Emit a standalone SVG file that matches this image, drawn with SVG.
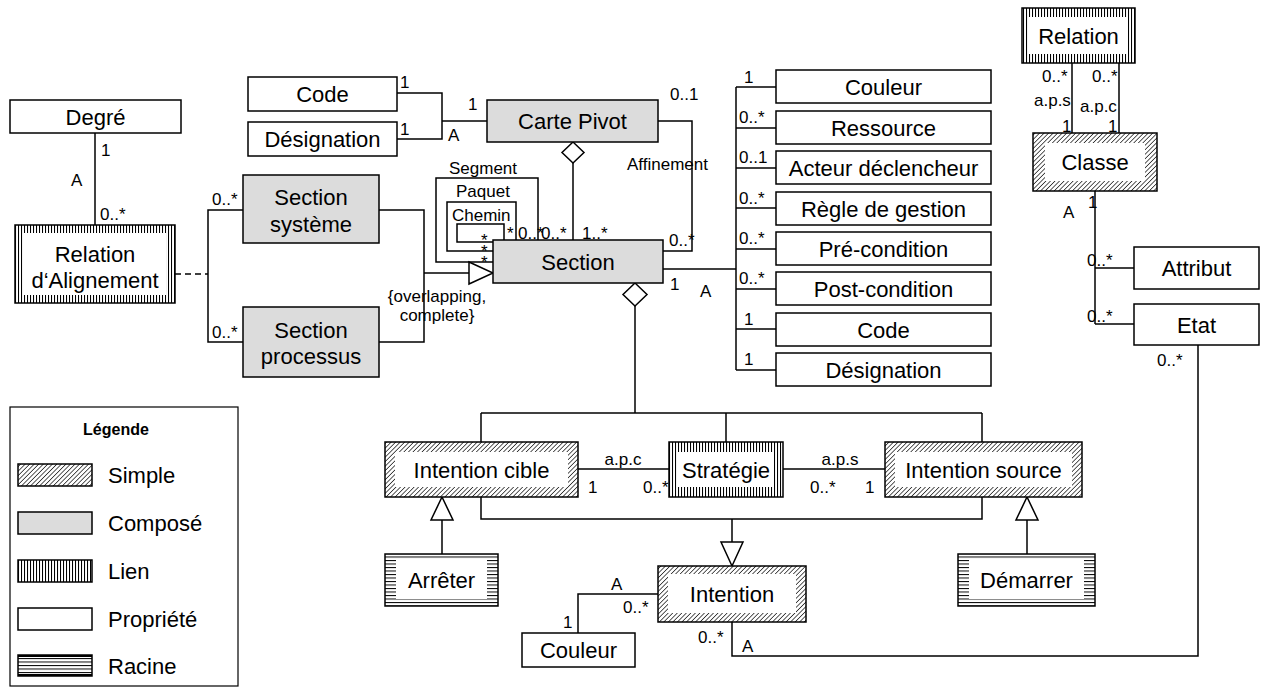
<svg xmlns="http://www.w3.org/2000/svg" width="1266" height="691" viewBox="0 0 1266 691">
<defs>
<pattern id="hatch" width="3.2" height="3.2" patternUnits="userSpaceOnUse" patternTransform="rotate(45)"><rect width="3.2" height="3.2" fill="#fff"/><line x1="0" y1="0" x2="0" y2="3.2" stroke="#000" stroke-width="1.3"/></pattern>
<pattern id="vert" width="3" height="3" patternUnits="userSpaceOnUse"><rect width="3" height="3" fill="#fff"/><line x1="0.5" y1="0" x2="0.5" y2="3" stroke="#000" stroke-width="1.1"/></pattern>
<pattern id="horiz" width="3.5" height="3.5" patternUnits="userSpaceOnUse"><rect width="3.5" height="3.5" fill="#fff"/><line x1="0" y1="0.5" x2="3.5" y2="0.5" stroke="#000" stroke-width="1"/></pattern>
</defs>
<style>
.prop{fill:#fff;stroke:#000;stroke-width:1.5}
.comp{fill:#dcdcdc;stroke:#000;stroke-width:1.5}
.simple{fill:url(#hatch);stroke:#000;stroke-width:1.5}
.lien{fill:url(#vert);stroke:#000;stroke-width:1.5}
.racine{fill:url(#horiz);stroke:#000;stroke-width:1.5}
.inner{fill:#fff;stroke:none}
.t{font-family:"Liberation Sans",Arial,sans-serif;font-size:22px;text-anchor:middle;fill:#000}
.m{font-family:"Liberation Sans",Arial,sans-serif;font-size:17px;fill:#000}
.mc{text-anchor:middle}
.ln{fill:none;stroke:#000;stroke-width:1.5}
.dash{stroke-dasharray:6 4}
.tri{fill:#fff;stroke:#000;stroke-width:1.5}
.lg{font-family:"Liberation Sans",Arial,sans-serif;font-size:22px;fill:#000}
</style>
<rect width="1266" height="691" fill="#fff"/>

<g id="connectors">
  <!-- Degré - Relation d'Alignement -->
  <line class="ln" x1="95" y1="133" x2="95" y2="225"/>
  <text class="m" x="101" y="156">1</text>
  <text class="m" x="71" y="186">A</text>
  <text class="m" x="100" y="220">0..*</text>
  <!-- dashed -->
  <line class="ln dash" x1="175" y1="274" x2="208" y2="274"/>
  <polyline class="ln" points="243,210 208,210 208,342 243,342"/>
  <text class="m" x="212" y="205">0..*</text>
  <text class="m" x="212" y="338">0..*</text>
  <!-- generalization to Section -->
  <polyline class="ln" points="379,210 424,210 424,342 379,342"/>
  <line class="ln" x1="424" y1="273" x2="469" y2="273"/>
  <polygon class="tri" points="469,262 469,284 493,273"/>
  <text class="m mc" x="437" y="302">{overlapping,</text>
  <text class="m mc" x="437" y="321">complete}</text>
  <!-- Code / Désignation - Carte Pivot -->
  <polyline class="ln" points="397,93 442,93 442,139 397,139"/>
  <line class="ln" x1="442" y1="121" x2="487" y2="121"/>
  <text class="m" x="400" y="88">1</text>
  <text class="m" x="400" y="135">1</text>
  <text class="m" x="468" y="110">1</text>
  <text class="m" x="448" y="141">A</text>
  <!-- Carte Pivot - Section composition -->
  <line class="ln" x1="573" y1="163" x2="573" y2="240"/>
  <polygon class="tri" points="573,142 584,152.5 573,163 562,152.5"/>
  <text class="m" x="582" y="239">1..*</text>
  <!-- Affinement -->
  <polyline class="ln" points="658,121 692,121 692,251 663,251"/>
  <text class="m" x="670" y="100">0..1</text>
  <text class="m" x="627" y="170">Affinement</text>
  <text class="m" x="669" y="246">0..*</text>
  <!-- self loops -->
  <polyline class="ln" points="493,262 436,262 436,178 538,178 538,240"/>
  <text class="m" x="449" y="174">Segment</text>
  <polyline class="ln" points="493,251 447,251 447,202 516,202 516,240"/>
  <text class="m" x="456" y="197">Paquet</text>
  <polyline class="ln" points="493,242 457,242 457,224 504,224 504,240"/>
  <text class="m" x="452" y="221">Chemin</text>
  <text class="m" x="481" y="246">*<tspan x="481" dy="11">*</tspan><tspan x="481" dy="11">*</tspan></text>
  <text class="m" x="507" y="239">*</text>
  <text class="m" x="518" y="239">0..*</text>
  <text class="m" x="541" y="239">0..*</text>
  <!-- Section properties -->
  <line class="ln" x1="663" y1="269" x2="736" y2="269"/>
  <line class="ln" x1="736" y1="87" x2="736" y2="370"/>
  <line class="ln" x1="736" y1="87" x2="776" y2="87"/>
  <line class="ln" x1="736" y1="128" x2="776" y2="128"/>
  <line class="ln" x1="736" y1="168" x2="776" y2="168"/>
  <line class="ln" x1="736" y1="208" x2="776" y2="208"/>
  <line class="ln" x1="736" y1="249" x2="776" y2="249"/>
  <line class="ln" x1="736" y1="289" x2="776" y2="289"/>
  <line class="ln" x1="736" y1="329" x2="776" y2="329"/>
  <line class="ln" x1="736" y1="370" x2="776" y2="370"/>
  <text class="m" x="744" y="83">1</text>
  <text class="m" x="739" y="123">0..*</text>
  <text class="m" x="739" y="163">0..1</text>
  <text class="m" x="739" y="204">0..*</text>
  <text class="m" x="739" y="244">0..*</text>
  <text class="m" x="739" y="284">0..*</text>
  <text class="m" x="744" y="325">1</text>
  <text class="m" x="744" y="365">1</text>
  <text class="m" x="670" y="290">1</text>
  <text class="m" x="700" y="297">A</text>
  <!-- Section - Intentions composition -->
  <polygon class="tri" points="635,283 647,294.5 635,306 623,294.5"/>
  <line class="ln" x1="635" y1="306" x2="635" y2="413"/>
  <line class="ln" x1="481" y1="413" x2="982" y2="413"/>
  <line class="ln" x1="481" y1="413" x2="481" y2="442"/>
  <line class="ln" x1="726" y1="413" x2="726" y2="442"/>
  <line class="ln" x1="982" y1="413" x2="982" y2="442"/>
  <!-- a.p.c / a.p.s -->
  <line class="ln" x1="578" y1="469" x2="669" y2="469"/>
  <text class="m mc" x="623" y="465">a.p.c</text>
  <text class="m" x="588" y="493">1</text>
  <text class="m" x="643" y="493">0..*</text>
  <line class="ln" x1="783" y1="469" x2="885" y2="469"/>
  <text class="m mc" x="840" y="465">a.p.s</text>
  <text class="m" x="810" y="493">0..*</text>
  <text class="m" x="865" y="493">1</text>
  <!-- generalization to Intention -->
  <polyline class="ln" points="481,497 481,519 982,519 982,497"/>
  <line class="ln" x1="732" y1="519" x2="732" y2="542"/>
  <polygon class="tri" points="721,542 743,542 732,566"/>
  <!-- Arrêter / Démarrer -->
  <line class="ln" x1="442" y1="520" x2="442" y2="554"/>
  <polygon class="tri" points="431,520 453,520 442,497"/>
  <line class="ln" x1="1027" y1="520" x2="1027" y2="554"/>
  <polygon class="tri" points="1016,520 1038,520 1027,497"/>
  <!-- Intention - Couleur -->
  <polyline class="ln" points="578,633 578,594 658,594"/>
  <text class="m" x="611" y="590">A</text>
  <text class="m" x="623" y="613">0..*</text>
  <text class="m" x="563" y="628">1</text>
  <!-- Intention - Etat -->
  <polyline class="ln" points="732,622 732,656 1198,656 1198,345"/>
  <text class="m" x="698" y="643">0..*</text>
  <text class="m" x="742" y="652">A</text>
  <text class="m" x="1157" y="366">0..*</text>
  <!-- Relation - Classe -->
  <line class="ln" x1="1072" y1="63" x2="1072" y2="133"/>
  <line class="ln" x1="1119" y1="63" x2="1119" y2="133"/>
  <text class="m" x="1042" y="82">0..*</text>
  <text class="m" x="1092" y="82">0..*</text>
  <text class="m" x="1034" y="106">a.p.s</text>
  <text class="m" x="1080" y="112">a.p.c</text>
  <text class="m" x="1062" y="132">1</text>
  <text class="m" x="1108" y="132">1</text>
  <!-- Classe - Attribut / Etat -->
  <line class="ln" x1="1095" y1="191" x2="1095" y2="324"/>
  <line class="ln" x1="1095" y1="268" x2="1134" y2="268"/>
  <line class="ln" x1="1095" y1="324" x2="1134" y2="324"/>
  <text class="m" x="1088" y="208">1</text>
  <text class="m" x="1063" y="218">A</text>
  <text class="m" x="1087" y="266">0..*</text>
  <text class="m" x="1087" y="322">0..*</text>
</g>

<g id="degre"><rect class="prop" x="10" y="100" width="171" height="33"/><text class="t" x="95.5" y="124.5">Degré</text></g>
<g id="relation-alignement"><rect class="lien" x="15" y="225" width="160" height="78"/><rect class="inner" x="24" y="233" width="142" height="62"/><text class="t" x="95" y="262">Relation</text><text class="t" x="95" y="288">d‘Alignement</text></g>
<g id="code"><rect class="prop" x="248" y="77" width="149" height="34"/><text class="t" x="322.5" y="102">Code</text></g>
<g id="designation"><rect class="prop" x="248" y="122" width="149" height="34"/><text class="t" x="322.5" y="147">Désignation</text></g>
<g id="carte-pivot"><rect class="comp" x="487" y="100" width="171" height="42"/><text class="t" x="572.5" y="129">Carte Pivot</text></g>
<g id="section-systeme"><rect class="comp" x="243" y="175" width="136" height="68"/><text class="t" x="311" y="205">Section</text><text class="t" x="311" y="232">système</text></g>
<g id="section-processus"><rect class="comp" x="243" y="307" width="136" height="70"/><text class="t" x="311" y="338">Section</text><text class="t" x="311" y="364">processus</text></g>
<g id="section"><rect class="comp" x="493" y="240" width="170" height="43"/><text class="t" x="578" y="269.5">Section</text></g>

<g id="p-couleur"><rect class="prop" x="776" y="70" width="215" height="33"/><text class="t" x="883.5" y="94.5">Couleur</text></g>
<g id="p-ressource"><rect class="prop" x="776" y="111" width="215" height="33"/><text class="t" x="883.5" y="135.5">Ressource</text></g>
<g id="p-acteur"><rect class="prop" x="776" y="151" width="215" height="33"/><text class="t" x="883.5" y="175.5">Acteur déclencheur</text></g>
<g id="p-regle"><rect class="prop" x="776" y="192" width="215" height="33"/><text class="t" x="883.5" y="216.5">Règle de gestion</text></g>
<g id="p-pre"><rect class="prop" x="776" y="232" width="215" height="33"/><text class="t" x="883.5" y="256.5">Pré-condition</text></g>
<g id="p-post"><rect class="prop" x="776" y="272" width="215" height="33"/><text class="t" x="883.5" y="296.5">Post-condition</text></g>
<g id="p-code"><rect class="prop" x="776" y="313" width="215" height="33"/><text class="t" x="883.5" y="337.5">Code</text></g>
<g id="p-designation"><rect class="prop" x="776" y="353" width="215" height="33"/><text class="t" x="883.5" y="377.5">Désignation</text></g>

<g id="relation"><rect class="lien" x="1022" y="8" width="113" height="55"/><rect class="inner" x="1029" y="17" width="99" height="37"/><text class="t" x="1078.5" y="43.5">Relation</text></g>
<g id="classe"><rect class="simple" x="1033" y="133" width="124" height="58"/><rect class="inner" x="1045" y="143" width="100" height="38"/><text class="t" x="1095" y="170">Classe</text></g>
<g id="attribut"><rect class="prop" x="1134" y="247" width="125" height="42"/><text class="t" x="1196.5" y="276">Attribut</text></g>
<g id="etat"><rect class="prop" x="1134" y="304" width="125" height="41"/><text class="t" x="1196.5" y="332.5">Etat</text></g>

<g id="intention-cible"><rect class="simple" x="385" y="442" width="193" height="55"/><rect class="inner" x="395" y="452" width="173" height="35"/><text class="t" x="481.5" y="477.5">Intention cible</text></g>
<g id="strategie"><rect class="lien" x="669" y="442" width="114" height="55"/><rect class="inner" x="678" y="452" width="96" height="35"/><text class="t" x="726" y="477.5">Stratégie</text></g>
<g id="intention-source"><rect class="simple" x="885" y="442" width="197" height="55"/><rect class="inner" x="895" y="452" width="177" height="35"/><text class="t" x="983.5" y="477.5">Intention source</text></g>
<g id="arreter"><rect class="racine" x="385" y="554" width="113" height="52"/><rect class="inner" x="396" y="560" width="91" height="39"/><text class="t" x="441.5" y="588">Arrêter</text></g>
<g id="intention"><rect class="simple" x="658" y="566" width="148" height="56"/><rect class="inner" x="668" y="574" width="128" height="39"/><text class="t" x="732" y="602">Intention</text></g>
<g id="couleur"><rect class="prop" x="522" y="633" width="113" height="34"/><text class="t" x="578.5" y="658">Couleur</text></g>
<g id="demarrer"><rect class="racine" x="958" y="554" width="137" height="52"/><rect class="inner" x="969" y="560" width="115" height="39"/><text class="t" x="1026.5" y="588">Démarrer</text></g>

<g id="legende">
  <rect x="10" y="407" width="228" height="279" fill="#fff" stroke="#000" stroke-width="1.2"/>
  <text x="116" y="435" font-family="Liberation Sans, Arial, sans-serif" font-size="16" font-weight="bold" text-anchor="middle">Légende</text>
  <rect class="simple" x="18" y="464" width="74" height="22"/>
  <text class="lg" x="108" y="483">Simple</text>
  <rect class="comp" x="18" y="512" width="74" height="22"/>
  <text class="lg" x="108" y="531">Composé</text>
  <rect class="lien" x="18" y="560" width="74" height="22"/>
  <text class="lg" x="108" y="579">Lien</text>
  <rect class="prop" x="18" y="608" width="74" height="22"/>
  <text class="lg" x="108" y="627">Propriété</text>
  <rect class="racine" x="18" y="655" width="74" height="21"/>
  <line x1="18" y1="656" x2="92" y2="656" stroke="#000" stroke-width="2"/>
  <line x1="18" y1="675" x2="92" y2="675" stroke="#000" stroke-width="2"/>
  <text class="lg" x="108" y="674">Racine</text>
</g>
</svg>
